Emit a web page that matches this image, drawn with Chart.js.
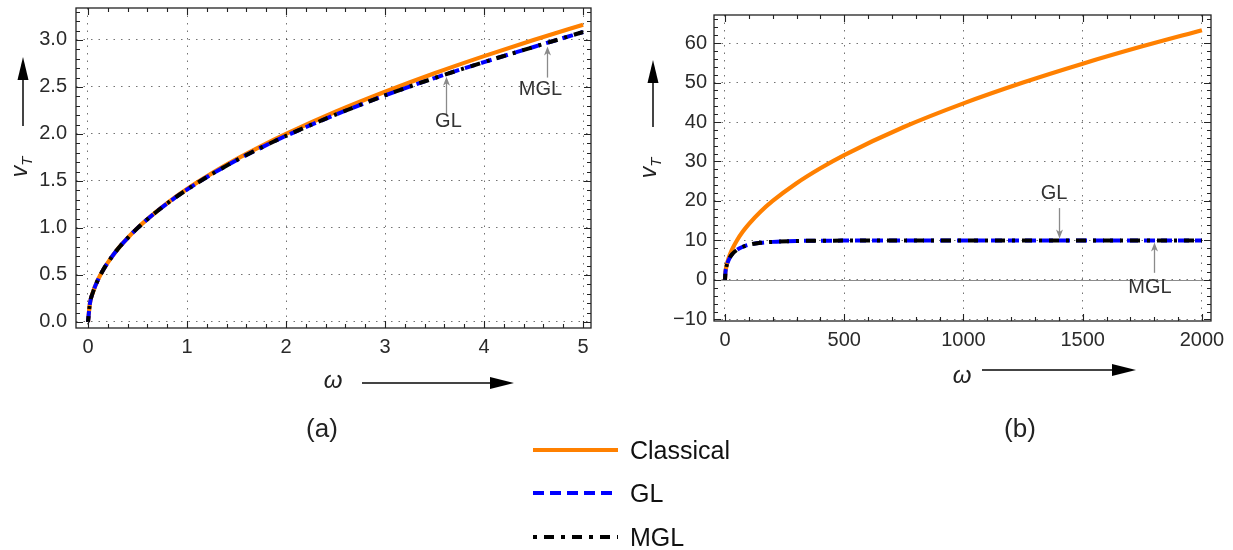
<!DOCTYPE html>
<html><head><meta charset="utf-8">
<script src="https://cdn.jsdelivr.net/npm/chart.js@4.4.1/dist/chart.umd.min.js"></script>
<style>
html,body{margin:0;padding:0;background:#fff;}
body{width:1233px;height:550px;position:relative;overflow:hidden;font-family:"Liberation Sans",Arial,sans-serif;}
#ca{position:absolute;left:0;top:0;}
#cb{position:absolute;left:620px;top:0;}
.t{position:absolute;white-space:nowrap;color:#222;transform:translate(-50%,-50%);line-height:1;}
.rot{transform:translate(-50%,-50%) rotate(-90deg);}
.lg{position:absolute;left:630px;font-size:25px;color:#111;transform:translateY(-50%);line-height:1;}
svg{position:absolute;left:0;top:0;pointer-events:none;}
</style></head><body>
<canvas id="ca" width="610" height="365"></canvas>
<canvas id="cb" width="613" height="365"></canvas>

<svg width="1233" height="550">
  <!-- axis direction arrows -->
  <line x1="23" y1="126" x2="23" y2="78" stroke="#444" stroke-width="2"/>
  <polygon points="23,57 17.5,80 28.5,80" fill="#000"/>
  <line x1="362" y1="383" x2="492" y2="383" stroke="#444" stroke-width="2"/>
  <polygon points="514,383 490,377 490,389" fill="#000"/>
  <line x1="653" y1="127" x2="653" y2="81" stroke="#444" stroke-width="2"/>
  <polygon points="653,60 647.5,83 658.5,83" fill="#000"/>
  <line x1="982" y1="370" x2="1114" y2="370" stroke="#444" stroke-width="2"/>
  <polygon points="1136,370 1112,364 1112,376" fill="#000"/>
  <!-- legend samples -->
  <line x1="533" y1="450" x2="618" y2="450" stroke="#FF8000" stroke-width="4"/>
  <line x1="533" y1="493" x2="618" y2="493" stroke="#0000FF" stroke-width="4" stroke-dasharray="11 6"/>
  <line x1="533" y1="537" x2="618" y2="537" stroke="#000" stroke-width="4" stroke-dasharray="4 7 10 7"/>
</svg>

<div class="t rot" style="left:21px;top:167px;font-size:23px;"><i>v</i><sub style="font-size:15px;"><i>T</i></sub></div>
<div class="t" style="left:333px;top:380px;font-size:24px;"><i>ω</i></div>
<div class="t" style="left:322px;top:428px;font-size:26px;">(a)</div>
<div class="t rot" style="left:650px;top:168px;font-size:23px;"><i>v</i><sub style="font-size:15px;"><i>T</i></sub></div>
<div class="t" style="left:962px;top:375px;font-size:24px;"><i>ω</i></div>
<div class="t" style="left:1020px;top:428px;font-size:26px;">(b)</div>

<div class="lg" style="top:450px;">Classical</div>
<div class="lg" style="top:493px;">GL</div>
<div class="lg" style="top:537px;">MGL</div>

<script>
// ---------------- data: panel (a) ----------------
const omegaA     = [0,0.02,0.05,0.1,0.15,0.2,0.3,0.4,0.5,0.6,0.8,1,1.25,1.5,1.75,2,2.5,3,3.5,4,4.5,5];
const classicalA = [0,0.2,0.316,0.447,0.548,0.632,0.775,0.894,1.0,1.095,1.265,1.414,1.581,1.732,1.871,2.0,2.236,2.449,2.646,2.828,3.0,3.162];
const glA        = [0,0.2,0.316,0.447,0.548,0.632,0.775,0.893,0.998,1.093,1.261,1.408,1.573,1.72,1.855,1.98,2.205,2.41,2.595,2.765,2.925,3.085];
const mglA       = [0,0.2,0.316,0.447,0.548,0.632,0.775,0.893,0.998,1.093,1.261,1.408,1.573,1.72,1.855,1.98,2.205,2.41,2.595,2.765,2.925,3.085];
const xTicksA = [0,1,2,3,4,5];
const xLabelsA = ['0','1','2','3','4','5'];
const yTicksA = [0,0.5,1,1.5,2,2.5,3];
const yLabelsA = ['0.0','0.5','1.0','1.5','2.0','2.5','3.0'];

// ---------------- data: panel (b) ----------------
const omegaB     = [0,2,5,10,20,30,50,75,100,150,200,300,400,500,750,1000,1250,1500,1750,2000];
const classicalB = [0,2,3.16,4.47,6.32,7.75,10,12.25,14.14,17.32,20,24.49,28.28,31.62,38.73,44.72,50,54.77,59.16,63.25];
const glB        = [0,1.97,3.06,4.2,5.6,6.5,7.6,8.4,8.9,9.4,9.64,9.86,9.93,9.96,9.99,10,10,10,10,10];
const mglB       = [0,1.97,3.06,4.2,5.6,6.5,7.6,8.4,8.9,9.4,9.64,9.86,9.93,9.96,9.99,10,10,10,10,10];
const xTicksB = [0,500,1000,1500,2000];
const xLabelsB = ['0','500','1000','1500','2000'];
const yTicksB = [-10,0,10,20,30,40,50,60];
const yLabelsB = ['\u221210','0','10','20','30','40','50','60'];

const seriesNames = ['Classical','GL','MGL'];

// ---------------- helpers ----------------
const FONT = '"Liberation Sans", Arial, sans-serif';
function pts(xs, ys){ return xs.map((x,i)=>({x:x, y:ys[i]})); }

function makeScale(min, max, ticks, labels, isY, fit, pad){
  return {
    type:'linear', min:min, max:max,
    afterBuildTicks: s => { s.ticks = ticks.map(v => ({value:v})); },
    afterFit: s => {
      if (isY) s.width = fit; else s.height = fit;
      s.paddingTop = 0; s.paddingBottom = 0; s.paddingLeft = 0; s.paddingRight = 0;
    },
    ticks:{ autoSkip:false, maxRotation:0, minRotation:0, padding:pad,
      font:{family:FONT, size:20}, color:'#2a2a2a',
      callback:(v,i)=>labels[i] },
    grid:{ color:'rgba(0,0,0,0.55)', lineWidth:1, drawTicks:false },
    border:{ display:false, dash:[1.5,6] }
  };
}

function framePlugin(minorX, minorY, zeroLine){
  return {
    id:'frame',
    beforeDatasetsDraw(chart){
      if (!zeroLine) return;
      const {ctx, chartArea:a, scales:{y}} = chart;
      const py = Math.round(y.getPixelForValue(0)) + 0.5;
      ctx.save(); ctx.strokeStyle='#8c8c8c'; ctx.lineWidth=1.2;
      ctx.beginPath(); ctx.moveTo(a.left,py); ctx.lineTo(a.right,py); ctx.stroke(); ctx.restore();
    },
    afterDraw(chart){
      const {ctx, chartArea:a, scales:{x,y}} = chart;
      ctx.save();
      ctx.strokeStyle='#222'; ctx.lineWidth=1.3;
      ctx.strokeRect(a.left, a.top, a.right-a.left, a.bottom-a.top);
      ctx.lineWidth=1.1;
      const tick = (px, len, vert) => {
        ctx.beginPath();
        if (vert){ ctx.moveTo(px,a.bottom); ctx.lineTo(px,a.bottom-len); ctx.moveTo(px,a.top); ctx.lineTo(px,a.top+len); }
        else { ctx.moveTo(a.left,px); ctx.lineTo(a.left+len,px); ctx.moveTo(a.right,px); ctx.lineTo(a.right-len,px); }
        ctx.stroke();
      };
      for (let v = Math.ceil(x.min/minorX)*minorX; v <= x.max + 1e-9; v += minorX){
        const major = Math.abs(v/ (minorX*5) - Math.round(v/(minorX*5))) < 1e-6;
        tick(Math.round(x.getPixelForValue(v))+0.5, major?7:4, true);
      }
      for (let v = Math.ceil(y.min/minorY)*minorY; v <= y.max + 1e-9; v += minorY){
        const major = Math.abs(v/ (minorY*5) - Math.round(v/(minorY*5))) < 1e-6;
        tick(Math.round(y.getPixelForValue(v))+0.5, major?7:4, false);
      }
      ctx.restore();
    }
  };
}

function annotPlugin(items){
  return {
    id:'annot',
    afterDatasetsDraw(chart){
      const {ctx, scales:{x,y}} = chart;
      items.forEach(it=>{
        const ax = Math.round(x.getPixelForValue(it.ax))+0.5;
        const y1 = y.getPixelForValue(it.from), y2 = y.getPixelForValue(it.to);
        const d = Math.sign(y2-y1);
        ctx.save();
        ctx.strokeStyle='#8a8a8a'; ctx.fillStyle='#8a8a8a'; ctx.lineWidth=1.3;
        ctx.beginPath(); ctx.moveTo(ax,y1); ctx.lineTo(ax,y2-d*5); ctx.stroke();
        ctx.beginPath(); ctx.moveTo(ax,y2); ctx.lineTo(ax-3.5,y2-d*9); ctx.lineTo(ax,y2-d*6.5); ctx.lineTo(ax+3.5,y2-d*9); ctx.closePath(); ctx.fill();
        ctx.font='20px '+FONT; ctx.fillStyle='#333'; ctx.textAlign='center'; ctx.textBaseline='middle';
        ctx.fillText(it.text, x.getPixelForValue(it.tx), y.getPixelForValue(it.ty));
        ctx.restore();
      });
    }
  };
}

function datasets(xs, c, g, m){
  return [
    {label:seriesNames[0], data:pts(xs,c), borderColor:'#FF8000', borderWidth:4.2, order:3},
    {label:seriesNames[1], data:pts(xs,g), borderColor:'#0000FF', borderWidth:4, borderDash:[11,6], order:2},
    {label:seriesNames[2], data:pts(xs,m), borderColor:'#000000', borderWidth:4, borderDash:[10,7,3,7], borderDashOffset:4, order:1}
  ];
}

const common = {
  responsive:false, animation:false, devicePixelRatio:1,
  elements:{ point:{radius:0}, line:{cubicInterpolationMode:'monotone', borderCapStyle:'butt', fill:false} },
  plugins:{ legend:{display:false}, tooltip:{enabled:false} }
};

new Chart(document.getElementById('ca'), {
  type:'line',
  data:{ datasets: datasets(omegaA, classicalA, glA, mglA) },
  options: Object.assign({}, common, {
    layout:{ padding:{left:0, top:8, right:19, bottom:0} },
    scales:{
      x: makeScale(-0.121, 5.08, xTicksA, xLabelsA, false, 37, 7),
      y: makeScale(-0.064, 3.34, yTicksA, yLabelsA, true, 76, 9)
    }
  }),
  plugins:[ framePlugin(0.2, 0.1, false), annotPlugin([
    {text:'GL',  ax:3.62, from:2.20, to:2.61, tx:3.64, ty:2.13},
    {text:'MGL', ax:4.64, from:2.60, to:2.93, tx:4.57, ty:2.47}
  ]) ]
});

new Chart(document.getElementById('cb'), {
  type:'line',
  data:{ datasets: datasets(omegaB, classicalB, glB, mglB) },
  options: Object.assign({}, common, {
    layout:{ padding:{left:0, top:15, right:22, bottom:0} },
    scales:{
      x: makeScale(-46, 2038, xTicksB, xLabelsB, false, 44, 7),
      y: makeScale(-10.4, 67.1, yTicksB, yLabelsB, true, 94, 7)
    }
  }),
  plugins:[ framePlugin(100, 2, true), annotPlugin([
    {text:'GL',  ax:1400, from:18.2, to:10.5, tx:1380, ty:22.0},
    {text:'MGL', ax:1800, from:1.8,  to:9.5,  tx:1782, ty:-1.8}
  ]) ]
});
</script>
</body></html>
